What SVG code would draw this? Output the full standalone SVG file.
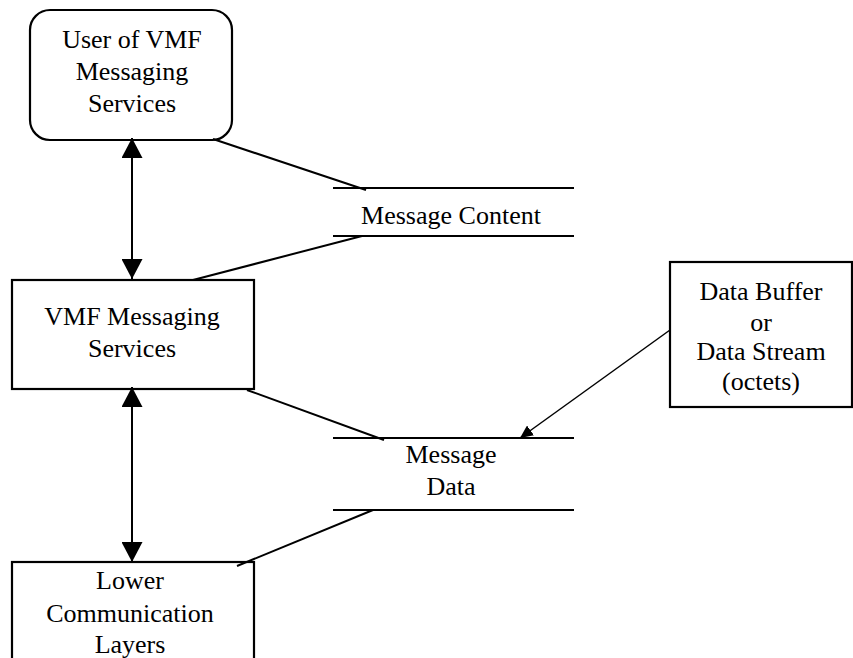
<svg xmlns="http://www.w3.org/2000/svg" width="853" height="658" viewBox="0 0 853 658">
<style>
text{font-family:"Liberation Serif","Times New Roman",serif;font-size:26px;fill:#000;text-anchor:middle}
.box{fill:#fff;stroke:#000;stroke-width:2.2}
.ln{stroke:#000;stroke-width:2;fill:none}
.thin{stroke:#000;stroke-width:1.5;fill:none}
</style>
<defs>
<marker id="ah" viewBox="0 0 20 21" refX="20" refY="10.5" markerWidth="20" markerHeight="21" markerUnits="userSpaceOnUse" orient="auto-start-reverse">
<path d="M0,0 L20,10.5 L0,21 Z" fill="#000"/>
</marker>
<marker id="sh" viewBox="0 0 13 12" refX="13" refY="6" markerWidth="13" markerHeight="12" markerUnits="userSpaceOnUse" orient="auto">
<path d="M0,0 L13,6 L0,12 Z" fill="#000"/>
</marker>
</defs>
<g id="user">
<rect class="box" x="30" y="10" width="202" height="130" rx="20" ry="20"/>
<text x="132" y="48">User of VMF</text>
<text x="132" y="80">Messaging</text>
<text x="132" y="112">Services</text>
</g>
<g id="vmf">
<rect class="box" x="12" y="280" width="242" height="109"/>
<text x="132" y="325">VMF Messaging</text>
<text x="132" y="357">Services</text>
</g>
<g id="lower">
<rect class="box" x="12" y="562" width="242" height="110"/>
<text x="130" y="589">Lower</text>
<text x="130" y="622">Communication</text>
<text x="130" y="653">Layers</text>
</g>
<g id="buffer">
<rect class="box" x="670" y="262" width="182" height="145"/>
<text x="761" y="300">Data Buffer</text>
<text x="761" y="331">or</text>
<text x="761" y="360">Data Stream</text>
<text x="761" y="390">(octets)</text>
</g>
<g id="content">
<line class="ln" x1="333" y1="188" x2="574" y2="188"/>
<line class="ln" x1="333" y1="236" x2="574" y2="236"/>
<text x="451" y="224">Message Content</text>
</g>
<g id="data">
<line class="ln" x1="333" y1="438" x2="574" y2="438"/>
<line class="ln" x1="333" y1="510" x2="574" y2="510"/>
<text x="451" y="463">Message</text>
<text x="451" y="495">Data</text>
</g>
<g id="connectors">
<line class="ln" x1="132" y1="138" x2="132" y2="279" marker-start="url(#ah)" marker-end="url(#ah)"/>
<line class="ln" x1="132" y1="387" x2="132" y2="562" marker-start="url(#ah)" marker-end="url(#ah)"/>
<line class="ln" x1="213" y1="139" x2="366" y2="190"/>
<line class="ln" x1="362" y1="236" x2="193" y2="280"/>
<line class="ln" x1="247" y1="390" x2="384" y2="440"/>
<line class="ln" x1="373" y1="510" x2="237" y2="566"/>
<line class="thin" x1="670" y1="330" x2="520" y2="438" marker-end="url(#sh)"/>
</g>
</svg>
